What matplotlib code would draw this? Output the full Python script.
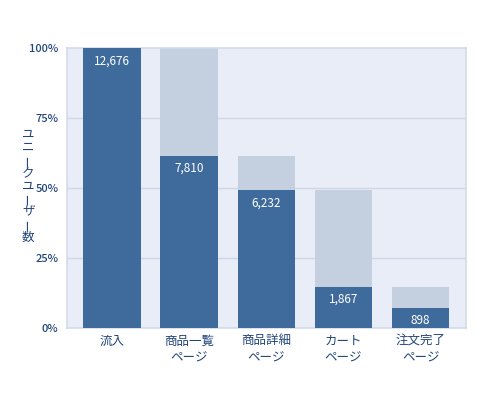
import numpy as np
import matplotlib
matplotlib.use("Agg")
from matplotlib import pyplot as plt

plt.rcParams['font.family'] = ['Noto Sans CJK JP', 'DejaVu Sans']

# funnel steps
steps = ["流入", "商品一覧\nページ", "商品詳細\nページ", "カート\nページ", "注文完了\nページ"]
users = [12676, 7810, 6232, 1867, 898]
y_ticks = [0, 0.25, 0.5, 0.75, 1.0]
y_tick_labels = ["0%", "25%", "50%", "75%", "100%"]
y_title = "ユニークユーザー数"

dark = "#3e6b9b"
light = "#c4d0df"
bg = "#e9edf8"
text_col = "#23457a"

total = users[0]
rate = np.array(users) / total
prev = np.concatenate([[np.nan], rate[:-1]])
x = np.arange(len(steps))

fig = plt.figure(figsize=(4.88, 3.98), dpi=100)
ax = fig.add_axes([0.137, 0.176, 0.818, 0.703])
ax.set_facecolor(bg)

for yt in y_ticks[1:-1]:
    ax.axhline(yt, color="#cdd7e6", lw=1, zorder=1)

ax.bar(x[1:], prev[1:], width=0.75, color=light, zorder=2)
ax.bar(x, rate, width=0.75, color=dark, zorder=3)

for xi, r, u in zip(x, rate, users):
    ax.annotate(f"{u:,}", (xi, r), xytext=(0, -4.5), textcoords="offset points",
                ha="center", va="top", color="white", fontsize=8.5, zorder=4)

ax.set_xlim(-0.59, 4.59)
ax.set_ylim(0, 1)
ax.set_yticks(y_ticks)
ax.set_yticklabels(y_tick_labels, fontweight="medium")
ax.set_xticks(x)
ax.set_xticklabels(steps, linespacing=1.35, fontsize=9)
ax.tick_params(axis="both", length=0, colors=text_col)
ax.tick_params(axis="y", pad=6, labelsize=8)
ax.tick_params(axis="x", pad=5)
for s in ax.spines.values():
    s.set_color("#d3dbe8")
    s.set_linewidth(1.2)

# vertical y title, one char per line
n = len(y_title)
step = 12.8 / 398
mid = 0.176 + 0.703 / 2 + 0.005
for i, ch in enumerate(y_title):
    yy = mid + (n / 2 - i - 0.5) * step
    fig.text(0.058, yy, ch, ha="center", va="center", fontsize=9, color=text_col,
             rotation=90 if ch == "ー" else 0)

fig.savefig("out.png", dpi=100)
